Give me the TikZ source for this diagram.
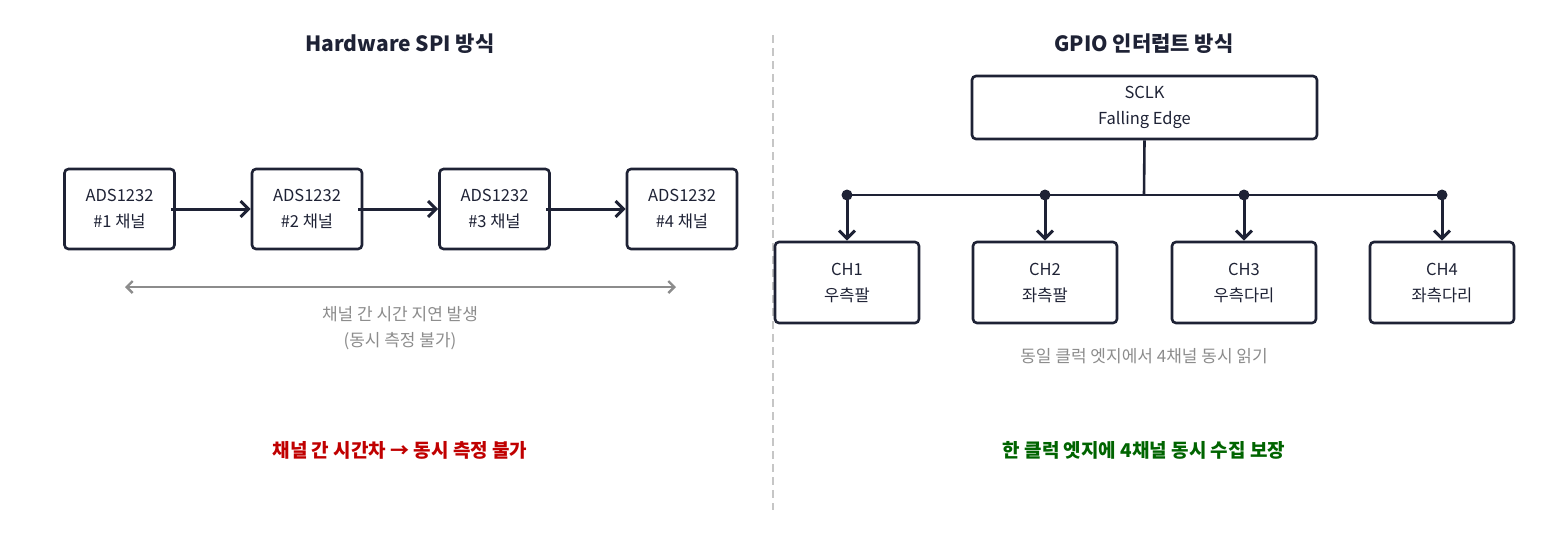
\documentclass[tikz,border=0pt]{standalone}
\usepackage{fontspec}
\setmainfont{Noto Sans CJK KR}
\usetikzlibrary{arrows.meta}
\definecolor{ink}{HTML}{1E2235}
\tikzset{x=1pt,y=-1pt,
 box/.style={draw=ink,line width=2.6pt,rounded corners=4pt,align=center,font=\fontsize{16.5}{26}\selectfont,text=ink},
 arr/.style={draw=ink,line width=3pt,-{Straight Barb[length=8pt,width=16pt]}},
 ttl/.style={font=\fontsize{21}{26}\selectfont\bfseries,text=ink},
 note/.style={font=\fontsize{17}{26}\selectfont,text=gray!90,align=center}}
\begin{document}
\begin{tikzpicture}
\useasboundingbox (0,0) rectangle (1545,550);
\node[ttl] (t1) at (400,44) {Hardware SPI 방식};
\node[ttl] (t2) at (1144,44) {GPIO 인터럽트 방식};
\coordinate (d1) at (773,35); \coordinate (d2) at (773,510);
\draw[gray!45,line width=2.2pt,dash pattern=on 8pt off 5pt] (d1)--(d2);
\foreach \i/\x in {1/119.5,2/307,3/494.5,4/682}
  \node[box,minimum width=110pt,minimum height=80pt] (a\i) at (\x,209) {ADS1232\\\#\i\ 채널};
\foreach \i/\j in {1/2,2/3,3/4}
  \draw[arr] ([xshift=-5pt]a\i.east)--(a\j.west);
\coordinate (g1) at (125,287); \coordinate (g2) at (676,287);
\draw[gray!90,line width=2.4pt,{Straight Barb[length=6pt,width=12pt]}-{Straight Barb[length=6pt,width=12pt]}] (g1)--(g2);
\node[note] (n1) at (400,328) {채널 간 시간 지연 발생\\(동시 측정 불가)};
\node[font=\fontsize{19}{24}\selectfont\bfseries,text={rgb,255:red,192;green,0;blue,0}] (r1) at (400,450) {채널 간 시간차 → 동시 측정 불가};
\node[box,minimum width=345pt,minimum height=63pt] (s) at (1144.5,107.5) {SCLK\\Falling Edge};
\coordinate (j) at (1144,195);
\draw[ink,line width=2.6pt] (s.south)--(j);
\foreach \i/\x/\t in {1/847/우측팔,2/1045/좌측팔,3/1244/우측다리,4/1442/좌측다리}{
  \node[box,minimum width=144pt,minimum height=81pt] (c\i) at (\x,282.5) {CH\i\\\t};
  \coordinate (p\i) at (\x,195);
  \fill[ink] (p\i) circle (5.5pt);
  \draw[arr] (p\i)--(c\i.north);
}
\draw[ink,line width=2.6pt] (p1)--(p4);
\node[note] (n2) at (1144,356) {동일 클럭 엣지에서 4채널 동시 읽기};
\node[font=\fontsize{19}{24}\selectfont\bfseries,text={rgb,255:red,0;green,100;blue,0}] (r2) at (1144,450) {한 클럭 엣지에 4채널 동시 수집 보장};
\end{tikzpicture}
\end{document}
